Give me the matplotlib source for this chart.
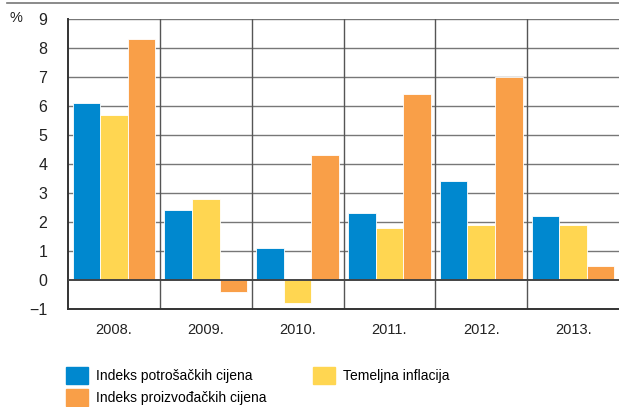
import numpy as np
import matplotlib
matplotlib.use("Agg")
import matplotlib.pyplot as plt
from matplotlib.patches import Patch
from matplotlib.lines import Line2D

plt.rcParams['font.family'] = ['Liberation Sans', 'DejaVu Sans']

years = ["2008.", "2009.", "2010.", "2011.", "2012.", "2013."]
ipc = [6.1, 2.4, 1.1, 2.3, 3.4, 2.2]        # Indeks potrošačkih cijena
temeljna = [5.7, 2.8, -0.8, 1.8, 1.9, 1.9]  # Temeljna inflacija
ipp = [8.3, -0.4, 4.3, 6.4, 7.0, 0.5]       # Indeks proizvođačkih cijena

c_blue = "#0088cf"
c_yellow = "#ffd651"
c_orange = "#f99f48"

fig = plt.figure(figsize=(6.19, 4.07), dpi=100)
ax = fig.add_axes([68/619, 1-309/407, 551/619, 290/407])

x = np.arange(len(years))
w = 0.30
ax.bar(x - w, ipc, w, color=c_blue, edgecolor="white", linewidth=0.6, zorder=3)
ax.bar(x, temeljna, w, color=c_yellow, edgecolor="white", linewidth=0.6, zorder=3)
ax.bar(x + w, ipp, w, color=c_orange, edgecolor="white", linewidth=0.6, zorder=3)

ax.set_xlim(-0.5, len(years) - 0.5)
ax.set_ylim(-1, 9)
ax.set_yticks(range(-1, 10))
ax.set_yticklabels(["\u22121"] + [str(i) for i in range(0, 10)])
ax.set_xticks(x)
ax.set_xticklabels(years)
ax.tick_params(length=0, labelsize=10.5, colors="#222222", pad=10)
ax.tick_params(axis="y", labelsize=11.5, pad=15)

for yv in range(0, 10):
    ax.axhline(yv, color="#444444" if yv == 0 else "#777777",
               lw=1.4 if yv == 0 else 1.0, zorder=1 if yv else 4)
for xv in np.arange(0.5, len(years) - 0.5):
    ax.axvline(xv, color="#555555", lw=1.0, zorder=1)

for s in ["top", "right"]:
    ax.spines[s].set_visible(False)
ax.spines["left"].set_color("#333333")
ax.spines["left"].set_linewidth(1.4)
ax.spines["bottom"].set_color("#333333")
ax.spines["bottom"].set_linewidth(1.4)

# top separator line and unit label
fig.add_artist(Line2D([7/619, 1], [1-3/407, 1-3/407], color="#777777", lw=1.2))
fig.text(9/619, 1-18/407, "%", fontsize=10.5, color="#222222", va="center")

handles = [Patch(color=c_blue), Patch(color=c_orange), Patch(color=c_yellow)]
labels = ["Indeks potrošačkih cijena", "Indeks proizvođačkih cijena", "Temeljna inflacija"]
fig.legend(handles, labels, ncol=2, loc="upper left",
           bbox_to_anchor=(66/619, 1-367/407), frameon=False, fontsize=10,
           handlelength=1.6, handleheight=1.5, handletextpad=0.55,
           columnspacing=3.35, labelspacing=0.35, borderaxespad=0, borderpad=0)

fig.savefig("out.png", dpi=100)
